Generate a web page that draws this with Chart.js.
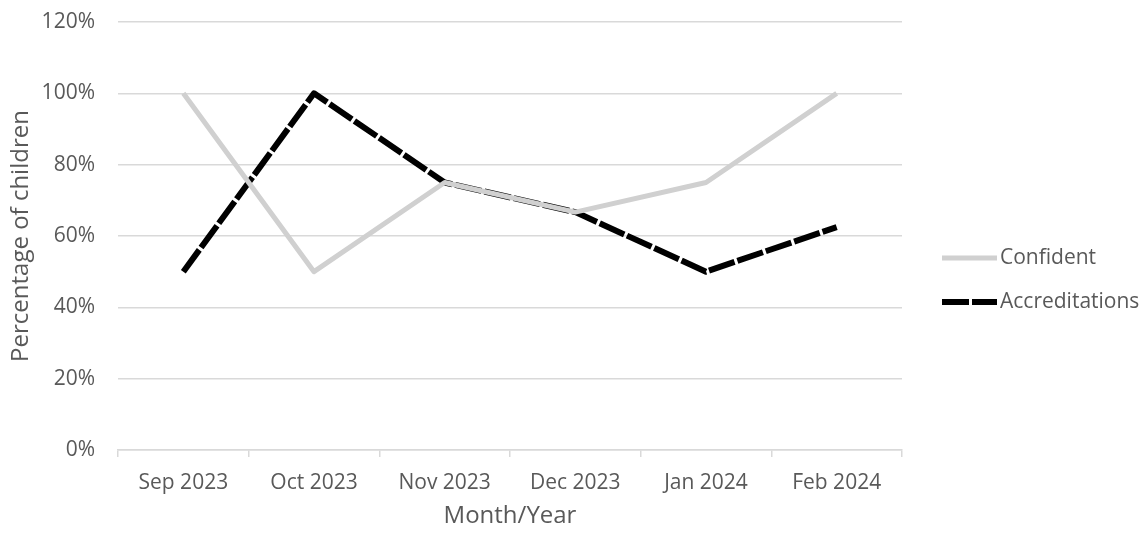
<!DOCTYPE html>
<html>
<head>
<meta charset="utf-8">
<style>
  html, body { margin: 0; padding: 0; background: #ffffff; }
  #wrap { width: 1144px; height: 533px; position: relative; }
</style>
<script src="https://cdn.jsdelivr.net/npm/chart.js@4/dist/chart.umd.min.js"></script>
</head>
<body>
<div id="wrap"><canvas id="chart" width="1144" height="533"></canvas></div>
<script>
// Monthly share of children (percent)
const months = ['Sep 2023', 'Oct 2023', 'Nov 2023', 'Dec 2023', 'Jan 2024', 'Feb 2024'];
const confident = [100, 50, 75, 66.7, 75, 100];
const accreditations = [50, 100, 75, 66.7, 50, 62.5];
const yTicks = [0, 20, 40, 60, 80, 100, 120];

const FONT = '"Open Sans", "Noto Sans", sans-serif';
const TEXT = '#595959';
const GRID = '#d9d9d9';

// Vertical legend drawn to the right of the plot, using each dataset's own line style
const sideLegend = {
  id: 'sideLegend',
  afterDraw(chart) {
    const ctx = chart.ctx;
    const x0 = 942, x1 = 997, textX = 1000;
    const rows = [258, 302];
    ctx.save();
    chart.data.datasets.forEach((ds, i) => {
      const y = rows[i];
      ctx.beginPath();
      ctx.strokeStyle = ds.borderColor;
      ctx.lineWidth = ds.borderWidth;
      ctx.lineCap = ds.borderCapStyle || 'butt';
      ctx.setLineDash(ds.borderDash || []);
      ctx.moveTo(x0, y);
      ctx.lineTo(x1, y);
      ctx.stroke();
      ctx.setLineDash([]);
      ctx.fillStyle = TEXT;
      ctx.font = '21px ' + FONT;
      ctx.textAlign = 'left';
      ctx.textBaseline = 'middle';
      ctx.fillText(ds.label, textX, y);
    });
    ctx.restore();
  }
};

const chart = new Chart(document.getElementById('chart'), {
  type: 'line',
  data: {
    labels: months,
    datasets: [
      {
        label: 'Confident',
        data: confident,
        borderColor: '#d0d0d0',
        borderWidth: 5,
        borderCapStyle: 'butt',
        borderJoinStyle: 'round',
        pointRadius: 0,
        tension: 0,
        fill: false
      },
      {
        label: 'Accreditations',
        data: accreditations,
        borderColor: '#000000',
        borderWidth: 6,
        borderDash: [27, 3],
        borderCapStyle: 'butt',
        borderJoinStyle: 'round',
        pointRadius: 0,
        tension: 0,
        fill: false
      }
    ]
  },
  options: {
    responsive: false,
    animation: false,
    layout: { autoPadding: false, padding: { top: 22, right: 242, bottom: 0, left: 0 } },
    plugins: {
      legend: { display: false },
      tooltip: { enabled: false }
    },
    scales: {
      x: {
        type: 'category',
        offset: true,
        grid: {
          offset: true,
          drawOnChartArea: false,
          drawTicks: true,
          tickLength: 7,
          color: GRID,
          lineWidth: 1.5
        },
        border: { display: true, color: GRID, width: 1.5 },
        ticks: {
          color: TEXT,
          font: { family: FONT, size: 21 },
          padding: 13,
          maxRotation: 0,
          autoSkip: false
        },
        title: {
          display: true,
          text: 'Month/Year',
          color: TEXT,
          font: { family: FONT, size: 24 },
          padding: { top: 0, bottom: 2 }
        },
        afterFit(scale) { scale.height = 83; }
      },
      y: {
        min: 0,
        max: 120,
        afterBuildTicks(scale) { scale.ticks = yTicks.map(v => ({ value: v })); },
        grid: {
          drawTicks: false,
          color: GRID,
          lineWidth: 1.5
        },
        border: { display: false },
        ticks: {
          color: TEXT,
          font: { family: FONT, size: 21 },
          padding: 23,
          callback: v => v + '%'
        },
        title: {
          display: true,
          text: 'Percentage of children',
          color: TEXT,
          font: { family: FONT, size: 24 },
          padding: { top: 7, bottom: 0 }
        },
        afterFit(scale) {
          scale.width = 118;
          scale.paddingTop = 0;
          scale.paddingBottom = 0;
        }
      }
    }
  },
  plugins: [sideLegend]
});
</script>
</body>
</html>
